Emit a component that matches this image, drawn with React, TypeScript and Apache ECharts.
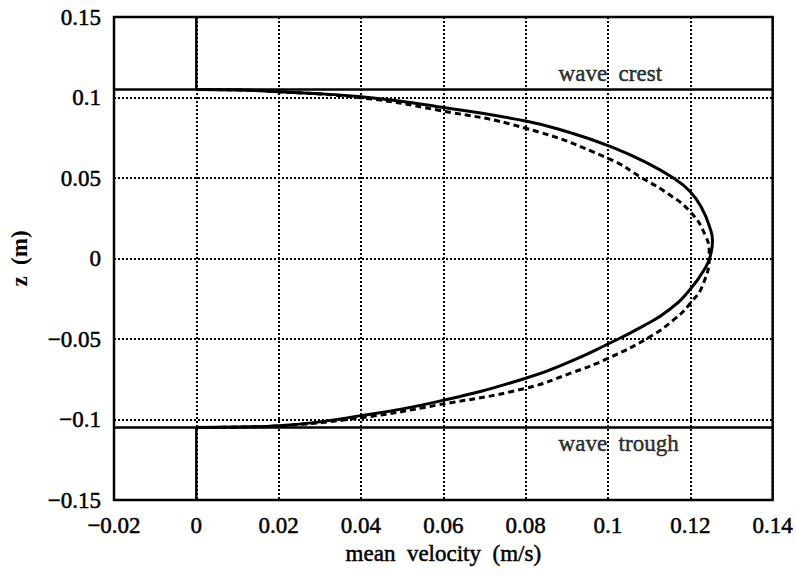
import React, { useEffect, useRef } from "react";
import * as echarts from "echarts";

// Solid curve: [velocity m/s, z m]
const solidProfile: [number, number][] = [
  [0, 0.105],
  [0.01, 0.1047],
  [0.02, 0.1036],
  [0.04, 0.1005],
  [0.0586, 0.0943],
  [0.08, 0.0854],
  [0.091, 0.078],
  [0.1, 0.0701],
  [0.109, 0.06],
  [0.116, 0.0498],
  [0.12, 0.0415],
  [0.1228, 0.0312],
  [0.1248, 0.0188],
  [0.1254, 0.011],
  [0.1249, 0.002],
  [0.1238, -0.0051],
  [0.12, -0.0191],
  [0.1148, -0.032],
  [0.1085, -0.042],
  [0.1, -0.0531],
  [0.0908, -0.064],
  [0.08, -0.0744],
  [0.0586, -0.0889],
  [0.04, -0.0976],
  [0.02, -0.1039],
  [0.01, -0.1047],
  [0, -0.105],
];

// Dashed curve: [velocity m/s, z m]
const dashedProfile: [number, number][] = [
  [0, 0.105],
  [0.01, 0.1047],
  [0.02, 0.1036],
  [0.04, 0.0998],
  [0.0586, 0.0922],
  [0.08, 0.0809],
  [0.1, 0.0622],
  [0.1084, 0.0498],
  [0.1147, 0.04],
  [0.12, 0.029],
  [0.1236, 0.0146],
  [0.1246, 0.003],
  [0.1232, -0.0154],
  [0.12, -0.0278],
  [0.116, -0.038],
  [0.11, -0.0489],
  [0.1, -0.062],
  [0.0912, -0.071],
  [0.08, -0.0806],
  [0.0586, -0.091],
  [0.04, -0.0989],
  [0.02, -0.1039],
  [0.01, -0.1047],
  [0, -0.105],
];

const crestZ = 0.105;
const troughZ = -0.105;
const xRange: [number, number] = [-0.02, 0.14];
const yRange: [number, number] = [-0.15, 0.15];

const annotations = [
  { v: 0.088, z: 0.1152, text: "wave  crest" },
  { v: 0.088, z: -0.1152, text: "wave  trough" },
];

const FONT = "'Liberation Serif', 'Times New Roman', serif";
const INK = { textBorderColor: "#000", textBorderWidth: 0.5 };

function fmt(v: number): string {
  const r = Math.round(v * 1000) / 1000;
  return String(r).replace("-", "\u2212");
}

export default function App() {
  const ref = useRef<HTMLDivElement>(null);
  useEffect(() => {
    if (!ref.current) return;
    const chart = echarts.init(ref.current, undefined, { renderer: "svg" });
    const black = "#000";
    chart.setOption({
      animation: false,
      backgroundColor: "#fff",
      grid: {
        left: 114,
        top: 17,
        right: 18,
        bottom: 81,
        show: true,
        borderColor: black,
        borderWidth: 2.5,
        containLabel: false,
      },
      xAxis: {
        type: "value",
        min: xRange[0],
        max: xRange[1],
        interval: 0.02,
        name: "mean  velocity  (m/s)",
        nameLocation: "middle",
        nameGap: 40,
        nameTextStyle: { fontFamily: FONT, fontSize: 23, color: black, ...INK },
        axisLine: { show: false },
        axisTick: { show: false },
        axisLabel: {
          margin: 14,
          fontFamily: FONT,
          fontSize: 23,
          color: black,
          formatter: fmt,
          ...INK,
        },
        splitLine: {
          show: true,
          lineStyle: { color: black, width: 2, type: [2, 2] },
        },
      },
      yAxis: {
        type: "value",
        min: yRange[0],
        max: yRange[1],
        interval: 0.05,
        name: "z  (m)",
        nameLocation: "middle",
        nameGap: 83,
        nameRotate: 90,
        nameTextStyle: {
          fontFamily: FONT,
          fontSize: 23,
          fontWeight: "bold",
          color: black,
        },
        axisLine: { show: false },
        axisTick: { show: false },
        axisLabel: {
          margin: 13,
          fontFamily: FONT,
          fontSize: 23,
          color: black,
          formatter: fmt,
          ...INK,
        },
        splitLine: {
          show: true,
          lineStyle: { color: black, width: 2, type: [2, 2] },
        },
      },
      series: [
        {
          type: "line",
          data: [
            [xRange[0], crestZ],
            [xRange[1], crestZ],
          ],
          symbol: "none",
          lineStyle: { color: black, width: 2.5 },
        },
        {
          type: "line",
          data: [
            [xRange[0], troughZ],
            [xRange[1], troughZ],
          ],
          symbol: "none",
          lineStyle: { color: black, width: 2.5 },
        },
        {
          type: "line",
          data: [
            [0, crestZ],
            [0, yRange[1]],
          ],
          symbol: "none",
          lineStyle: { color: black, width: 2.5 },
        },
        {
          type: "line",
          data: [
            [0, yRange[0]],
            [0, troughZ],
          ],
          symbol: "none",
          lineStyle: { color: black, width: 2.5 },
        },
        {
          type: "line",
          data: solidProfile,
          symbol: "none",
          smooth: 0.5,
          lineStyle: { color: black, width: 3 },
        },
        {
          type: "line",
          data: dashedProfile,
          symbol: "none",
          smooth: 0.5,
          lineStyle: { color: black, width: 3, type: [6, 4] },
        },
        {
          type: "scatter",
          symbolSize: 0,
          data: annotations.map((a) => ({
            value: [a.v, a.z],
            label: {
              show: true,
              formatter: a.text,
              position: "inside",
              align: "left",
              verticalAlign: "middle",
              fontFamily: FONT,
              fontSize: 23,
              color: black,
              ...INK,
            },
          })),
        },
      ],
    });
    return () => chart.dispose();
  }, []);
  return (
    <div
      ref={ref}
      style={{
        position: "fixed",
        left: 0,
        top: 0,
        width: 796,
        height: 581,
        background: "#fff",
      }}
    />
  );
}
